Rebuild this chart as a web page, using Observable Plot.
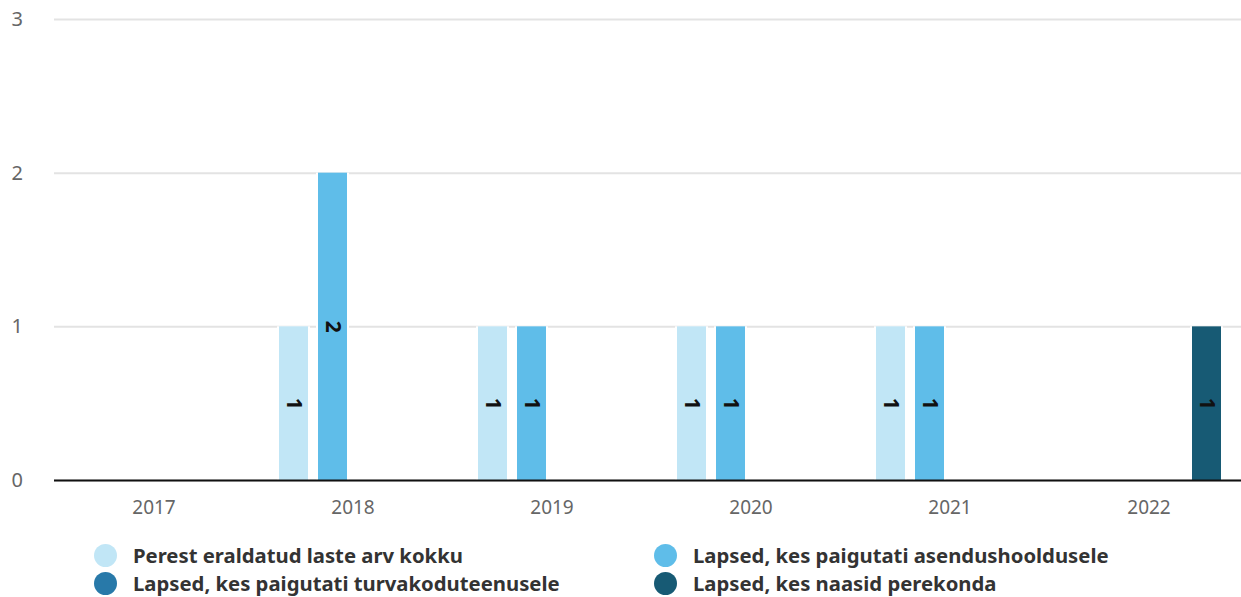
<!DOCTYPE html>
<html>
<head>
<meta charset="utf-8">
<script src="https://cdn.jsdelivr.net/npm/d3@7"></script>
<script src="https://cdn.jsdelivr.net/npm/@observablehq/plot@0.6"></script>
<style>
  html, body { margin: 0; padding: 0; background: #fff; }
  #chart svg { display: block; }
  .legend { display: grid; grid-template-columns: 560px 560px; padding-left: 94px; margin-top: 11px;
            font-family: "Noto Sans", sans-serif; font-weight: bold; font-size: 20.3px; color: #333; }
  .item { display: flex; align-items: center; height: 28px; white-space: nowrap; }
  .sw { width: 23px; height: 23px; border-radius: 50%; margin-right: 16px; flex: none; }
</style>
</head>
<body>
<div id="chart"></div>
<div class="legend" id="legend"></div>
<script>
const years = ["2017", "2018", "2019", "2020", "2021", "2022"];
const seriesNames = [
  "Perest eraldatud laste arv kokku",
  "Lapsed, kes paigutati asendushooldusele",
  "Lapsed, kes paigutati turvakoduteenusele",
  "Lapsed, kes naasid perekonda"
];
const seriesColors = ["#c1e6f6", "#5fbde9", "#2879a9", "#175a74"];
const perestKokku = [0, 1, 1, 1, 1, 0];
const asendushooldus = [0, 2, 1, 1, 1, 0];
const turvakodu = [0, 0, 0, 0, 0, 0];
const naasidPerekonda = [0, 0, 0, 0, 0, 1];
const yTicks = [0, 1, 2, 3];

const seriesValues = [perestKokku, asendushooldus, turvakodu, naasidPerekonda];
const data = [];
years.forEach((yr, i) => {
  seriesNames.forEach((s, j) => {
    data.push({ year: yr, series: s, value: seriesValues[j][i] });
  });
});
const nonZero = data.filter(d => d.value > 0);

const font = '"Noto Sans", sans-serif';

const chart = Plot.plot({
  width: 1241,
  height: 530,
  marginLeft: 53,
  marginRight: -7,
  marginTop: 19,
  marginBottom: 50,
  style: { fontFamily: font, fontSize: "20px", color: "#666", background: "#fff" },
  fx: { domain: years, padding: 0, label: null, axis: null },
  x: { domain: seriesNames, paddingInner: 0.25, paddingOuter: 0.625, axis: null },
  y: { domain: [0, 3], axis: null },
  color: { domain: seriesNames, range: seriesColors },
  marks: [
    Plot.gridY(yTicks, { stroke: "#e3e3e3", strokeOpacity: 1, strokeWidth: 2 }),
    Plot.barY(data, { fx: "year", x: "series", y: "value", fill: "white", insetLeft: -2, insetRight: -2 }),
    Plot.barY(data, { fx: "year", x: "series", y: "value", fill: "series" }),
    Plot.ruleY([0], { stroke: "#111", strokeWidth: 2 }),
    Plot.text(nonZero, { fx: "year", x: "series", y: d => d.value / 2, text: d => String(d.value),
      rotate: 90, fontSize: 21, fontWeight: "bold", fill: "#111" }),
    Plot.axisY({ ticks: yTicks, tickFormat: "d", tickSize: 0, tickPadding: 0, textAnchor: "start", dx: -43,
      label: null, fontSize: 20, fill: "#666" }),
    Plot.axisFx({ anchor: "bottom", tickSize: 0, tickPadding: 20, label: null, fontSize: 19, fill: "#666" })
  ]
});
document.getElementById("chart").appendChild(chart);

const legend = document.getElementById("legend");
[0, 1, 2, 3].forEach(j => {
  const it = document.createElement("div");
  it.className = "item";
  const sw = document.createElement("span");
  sw.className = "sw";
  sw.style.background = seriesColors[j];
  const t = document.createElement("span");
  t.textContent = seriesNames[j];
  it.appendChild(sw); it.appendChild(t);
  legend.appendChild(it);
});
</script>
</body>
</html>
